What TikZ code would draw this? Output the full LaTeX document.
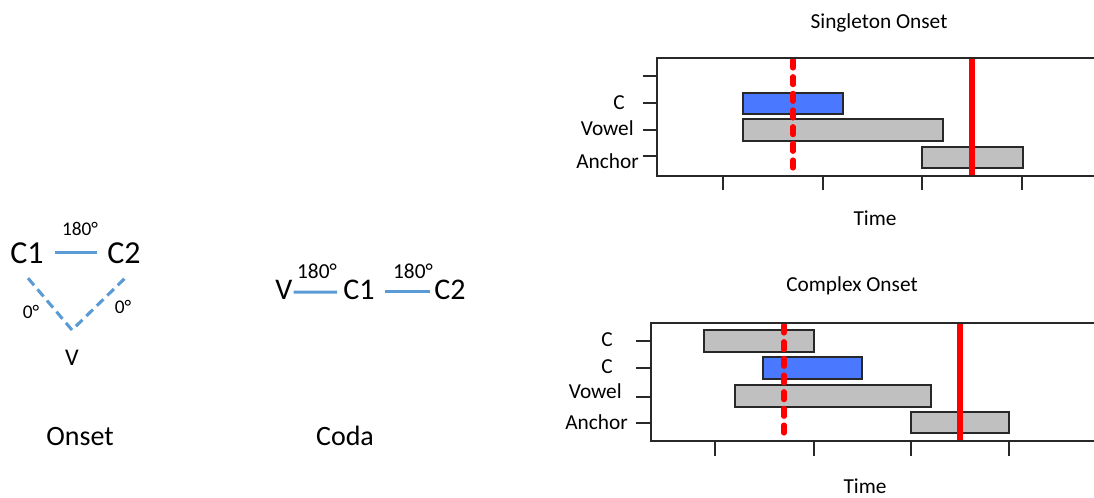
\documentclass[tikz,border=0pt]{standalone}
\usepackage{fontspec}
\setmainfont{Carlito}
\definecolor{barblue}{RGB}{74,121,255}
\definecolor{bargray}{RGB}{192,192,192}
\definecolor{linkblue}{RGB}{91,155,213}
\definecolor{frameblack}{RGB}{40,40,40}
\tikzset{
  lab/.style={inner sep=0pt, anchor=base},
  fsz/.style={font=\fontsize{#1}{#1}\selectfont},
  link/.style={draw=linkblue, line width=2.3pt},
  dlink/.style={draw=linkblue, line width=2.3pt, dash pattern=on 7pt off 4pt},
  frame/.style={draw=frameblack, line width=1.5pt},
  tick/.style={draw=frameblack, line width=1.5pt},
  bar/.style={draw=frameblack, line width=1.1pt},
  graybar/.style={bar, fill=bargray},
  bluebar/.style={bar, fill=barblue},
  redsolid/.style={draw=red, line width=3.8pt},
  reddash/.style={draw=red, line width=3.8pt, line cap=round, dash pattern=on 6pt off 6.5pt},
}
\begin{document}
\begin{tikzpicture}[x=0.75pt,y=-0.75pt]
\useasboundingbox (0,0) rectangle (1094,497);
% ---------- Onset diagram ----------
\node[lab,fsz=24] (c1) at (27,263) {C1};
\node[lab,fsz=24] (c2) at (124,263) {C2};
\node[lab,fsz=18] (v) at (72,365) {V};
\coordinate (vtip) at (72,330);
\draw[link, shorten <=8.5pt, shorten >=7.5pt] (c1.east) -- (c2.west);
\node[lab,fsz=14.5] (a180) at (80,235) {180°};
\draw[dlink] ([xshift=0.75pt,yshift=-11pt]c1.south) -- (vtip) -- ([xshift=0.75pt,yshift=-11pt]c2.south);
\node[lab,fsz=14.5] (z1) at (31,318) {0°};
\node[lab,fsz=14.5] (z2) at (123,313) {0°};
\node[lab,fsz=21] (onset) at (80,445) {Onset};
% ---------- Coda diagram ----------
\node[lab,fsz=22.5] (cv) at (284,299) {V};
\node[lab,fsz=22.5] (cc1) at (359,299) {C1};
\node[lab,fsz=22.5] (cc2) at (450,299) {C2};
\draw[link, shorten <=0.7pt, shorten >=4.5pt] ([yshift=-2pt]cv.east) -- ([yshift=-2pt]cc1.west);
\draw[link, shorten <=7.5pt, shorten >=3pt] ([yshift=-1.5pt]cc1.east) -- ([yshift=-1.5pt]cc2.west);
\node[lab,fsz=16] (b180a) at (317,278) {180°};
\node[lab,fsz=16] (b180b) at (413,278) {180°};
\node[lab,fsz=21] (coda) at (345,445) {Coda};
% ---------- Singleton Onset plot ----------
\node[lab,fsz=16] (t1) at (879,28) {Singleton Onset};
\draw[graybar] (743,119) rectangle (943,141);
\draw[bluebar] (743,93) rectangle (843,114);
\draw[graybar] (922,147) rectangle (1023,168);
\draw[reddash] (793,60) -- (793,176);
\draw[redsolid] (972,58) -- (972,176);
\draw[frame] (1096,58) -- (657,58) -- (657,176) -- (1096,176);
\foreach \yy in {76,103,130,156} \draw[tick] (643,\yy) -- (657,\yy);
\foreach \xx in {723,823,922,1022} \draw[tick] (\xx,176) -- (\xx,190);
\node[lab,fsz=16,anchor=base east] (l1c) at (625,109.5) {C};
\node[lab,fsz=16,anchor=base east] (l1v) at (634,135) {Vowel};
\node[lab,fsz=16,anchor=base east] (l1a) at (639,168) {Anchor};
\node[lab,fsz=16] (time1) at (875,225) {Time};
% ---------- Complex Onset plot ----------
\node[lab,fsz=16] (t2) at (852,291) {Complex Onset};
\draw[graybar] (704,330) rectangle (814,352);
\draw[graybar] (735,385) rectangle (931,407);
\draw[bluebar] (763,357) rectangle (862,379);
\draw[graybar] (911,412) rectangle (1009,433);
\draw[reddash] (784,325) -- (784,441);
\draw[redsolid] (960,323) -- (960,441);
\draw[frame] (1096,323) -- (651,323) -- (651,441) -- (1096,441);
\foreach \yy in {341,368,397,423} \draw[tick] (636,\yy) -- (651,\yy);
\foreach \xx in {715,814,911,1009} \draw[tick] (\xx,441) -- (\xx,456);
\node[lab,fsz=16,anchor=base east] (l2c1) at (613,346) {C};
\node[lab,fsz=16,anchor=base east] (l2c2) at (613,373) {C};
\node[lab,fsz=16,anchor=base east] (l2v) at (622,398) {Vowel};
\node[lab,fsz=16,anchor=base east] (l2a) at (628,429) {Anchor};
\node[lab,fsz=16] (time2) at (865,493) {Time};
\end{tikzpicture}
\end{document}
